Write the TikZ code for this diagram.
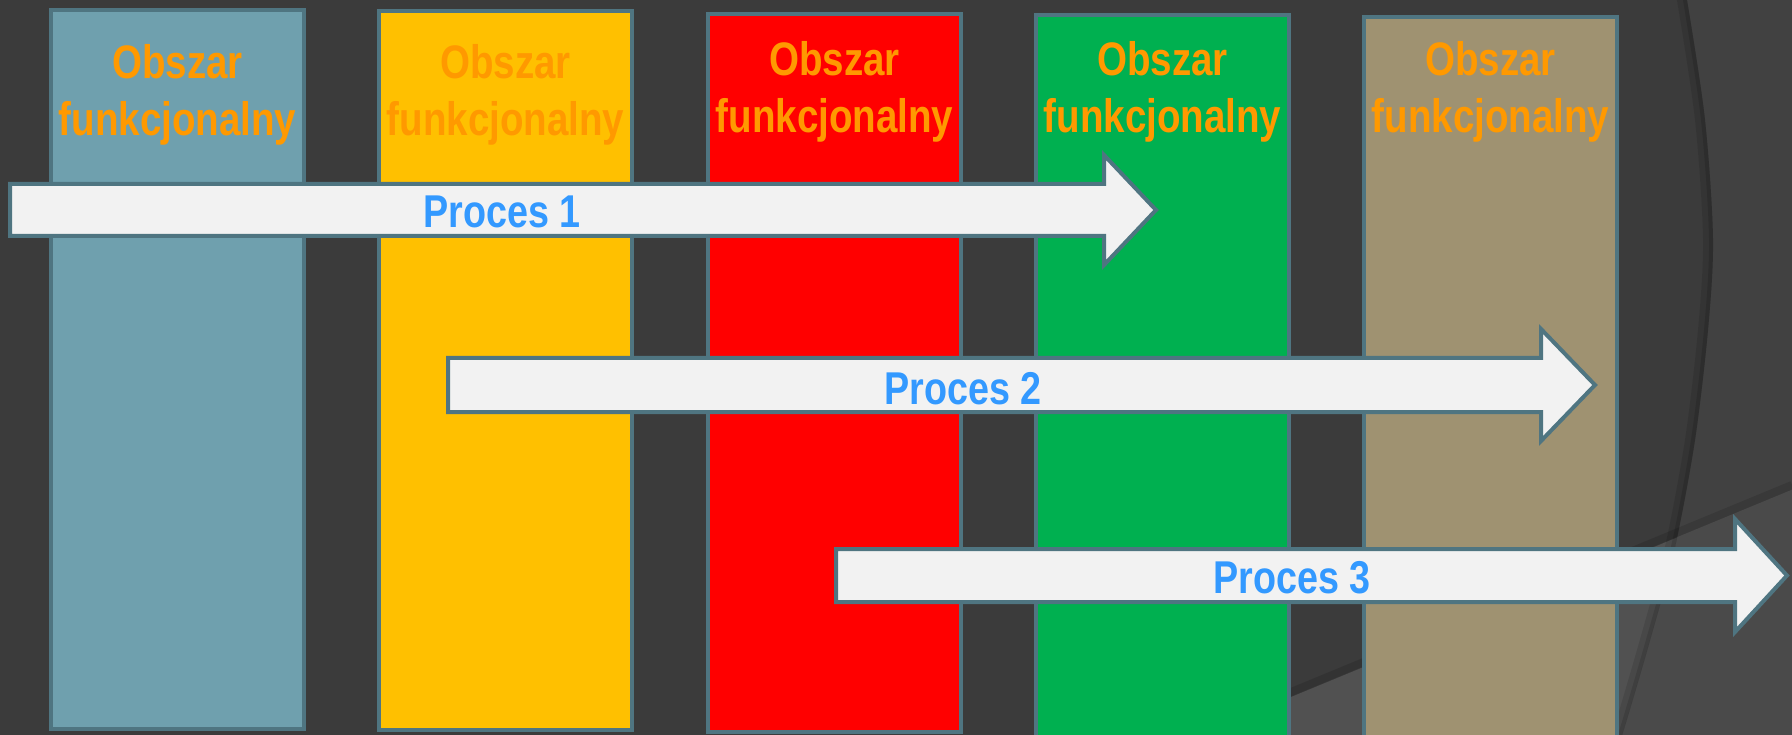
\documentclass[tikz,border=0pt]{standalone}
\usepackage{fontspec}
\newfontfamily\narrowsans{Liberation Sans}[FakeStretch=0.82]

% palette
\definecolor{bgdark}{HTML}{3B3B3B}
\definecolor{bgmid}{HTML}{414141}
\definecolor{bglight}{HTML}{515151}
\definecolor{bglightr}{HTML}{4A4A4A}
\definecolor{edge}{HTML}{4F7581}
\definecolor{colA}{HTML}{6FA0AE}
\definecolor{colB}{HTML}{FFC000}
\definecolor{colC}{HTML}{FF0000}
\definecolor{colD}{HTML}{00B050}
\definecolor{colE}{HTML}{9F9271}
\definecolor{arrowfill}{HTML}{F2F2F2}
\definecolor{areatext}{HTML}{FF9900}
\definecolor{proctext}{HTML}{3399FF}

\tikzset{
  area/.style={draw=edge, line width=4pt, line join=miter},
  procarrow/.style={draw=edge, fill=arrowfill, line width=4pt, line join=miter},
  areatxt/.style={text=areatext, anchor=base, inner sep=0pt,
    font=\narrowsans\bfseries\fontsize{47}{56}\selectfont},
  proctxt/.style={text=proctext, anchor=base, inner sep=0pt,
    font=\narrowsans\bfseries\fontsize{46}{54}\selectfont},
}

\begin{document}
\begin{tikzpicture}[x=1pt, y=-1pt]
\useasboundingbox (0,0) rectangle (1792,735);

% background with the curved panels on the right
\fill[bgdark] (0,0) rectangle (1792,735);
\fill[bgmid] plot[smooth] coordinates {(1682,-20) (1687,0) (1705,120) (1713,239) (1708,330) (1695,440) (1675,547) (1650,640) (1622,735) (1612,760)}
  -- (1800,760) -- (1800,-20) -- cycle;
\fill[bglight] (1100,776) -- (1792,490) -- (1800,490) -- (1800,760) -- (1100,760) -- cycle;
\begin{scope}
  \clip plot[smooth] coordinates {(1682,-20) (1687,0) (1705,120) (1713,239) (1708,330) (1695,440) (1675,547) (1650,640) (1622,735) (1612,760)}
    -- (1800,760) -- (1800,-20) -- cycle;
  \fill[bglightr] (1100,776) -- (1792,490) -- (1800,490) -- (1800,760) -- (1100,760) -- cycle;
\end{scope}
% soft shadows along the panel edges
\begin{scope}[xshift=-5pt]
  \draw[black, opacity=0.10, line width=10pt] plot[smooth] coordinates {(1682,-20) (1687,0) (1705,120) (1713,239) (1708,330) (1695,440) (1675,547) (1650,640) (1622,735) (1612,760)};
\end{scope}
\begin{scope}[xshift=-2pt]
  \draw[black, opacity=0.12, line width=4pt] plot[smooth] coordinates {(1682,-20) (1687,0) (1705,120) (1713,239) (1708,330) (1695,440) (1675,547) (1650,640) (1622,735) (1612,760)};
\end{scope}
\draw[black, opacity=0.12, line width=8pt] (1100,771) -- (1792,485);

% functional areas
\filldraw[area, fill=colA] (51,10)   rectangle (304,729);
\filldraw[area, fill=colB] (379,11.5) rectangle (632,730);
\filldraw[area, fill=colC] (708,14)  rectangle (961,732);
\filldraw[area, fill=colD] (1036,15) rectangle (1289,745);
\filldraw[area, fill=colE] (1364,17) rectangle (1617,745);

\node[areatxt] (o1) at (177.5,79)  {Obszar};
\node[areatxt] (f1) at (177.5,136) {funkcjonalny};
\node[areatxt] (o2) at (505.5,79)  {Obszar};
\node[areatxt] (f2) at (505.5,136) {funkcjonalny};
\node[areatxt] (o3) at (834.5,76)  {Obszar};
\node[areatxt] (f3) at (834.5,133) {funkcjonalny};
\node[areatxt] (o4) at (1162.5,76) {Obszar};
\node[areatxt] (f4) at (1162.5,133) {funkcjonalny};
\node[areatxt] (o5) at (1490.5,76) {Obszar};
\node[areatxt] (f5) at (1490.5,133) {funkcjonalny};

% process arrows
\filldraw[procarrow] (10,184) -- (1104,184) -- (1104,155) -- (1156,210)
  -- (1104,265) -- (1104,236) -- (10,236) -- cycle;
\filldraw[procarrow] (448,358) -- (1541,358) -- (1541,329) -- (1595,385)
  -- (1541,441) -- (1541,412) -- (448,412) -- cycle;
\filldraw[procarrow] (836,549) -- (1735,549) -- (1735,519) -- (1787,575.5)
  -- (1735,632) -- (1735,602) -- (836,602) -- cycle;

\node[proctxt] (p1) at (502,228) {Proces 1};
\node[proctxt] (p2) at (963,405) {Proces 2};
\node[proctxt] (p3) at (1292,593) {Proces 3};
\end{tikzpicture}
\end{document}
